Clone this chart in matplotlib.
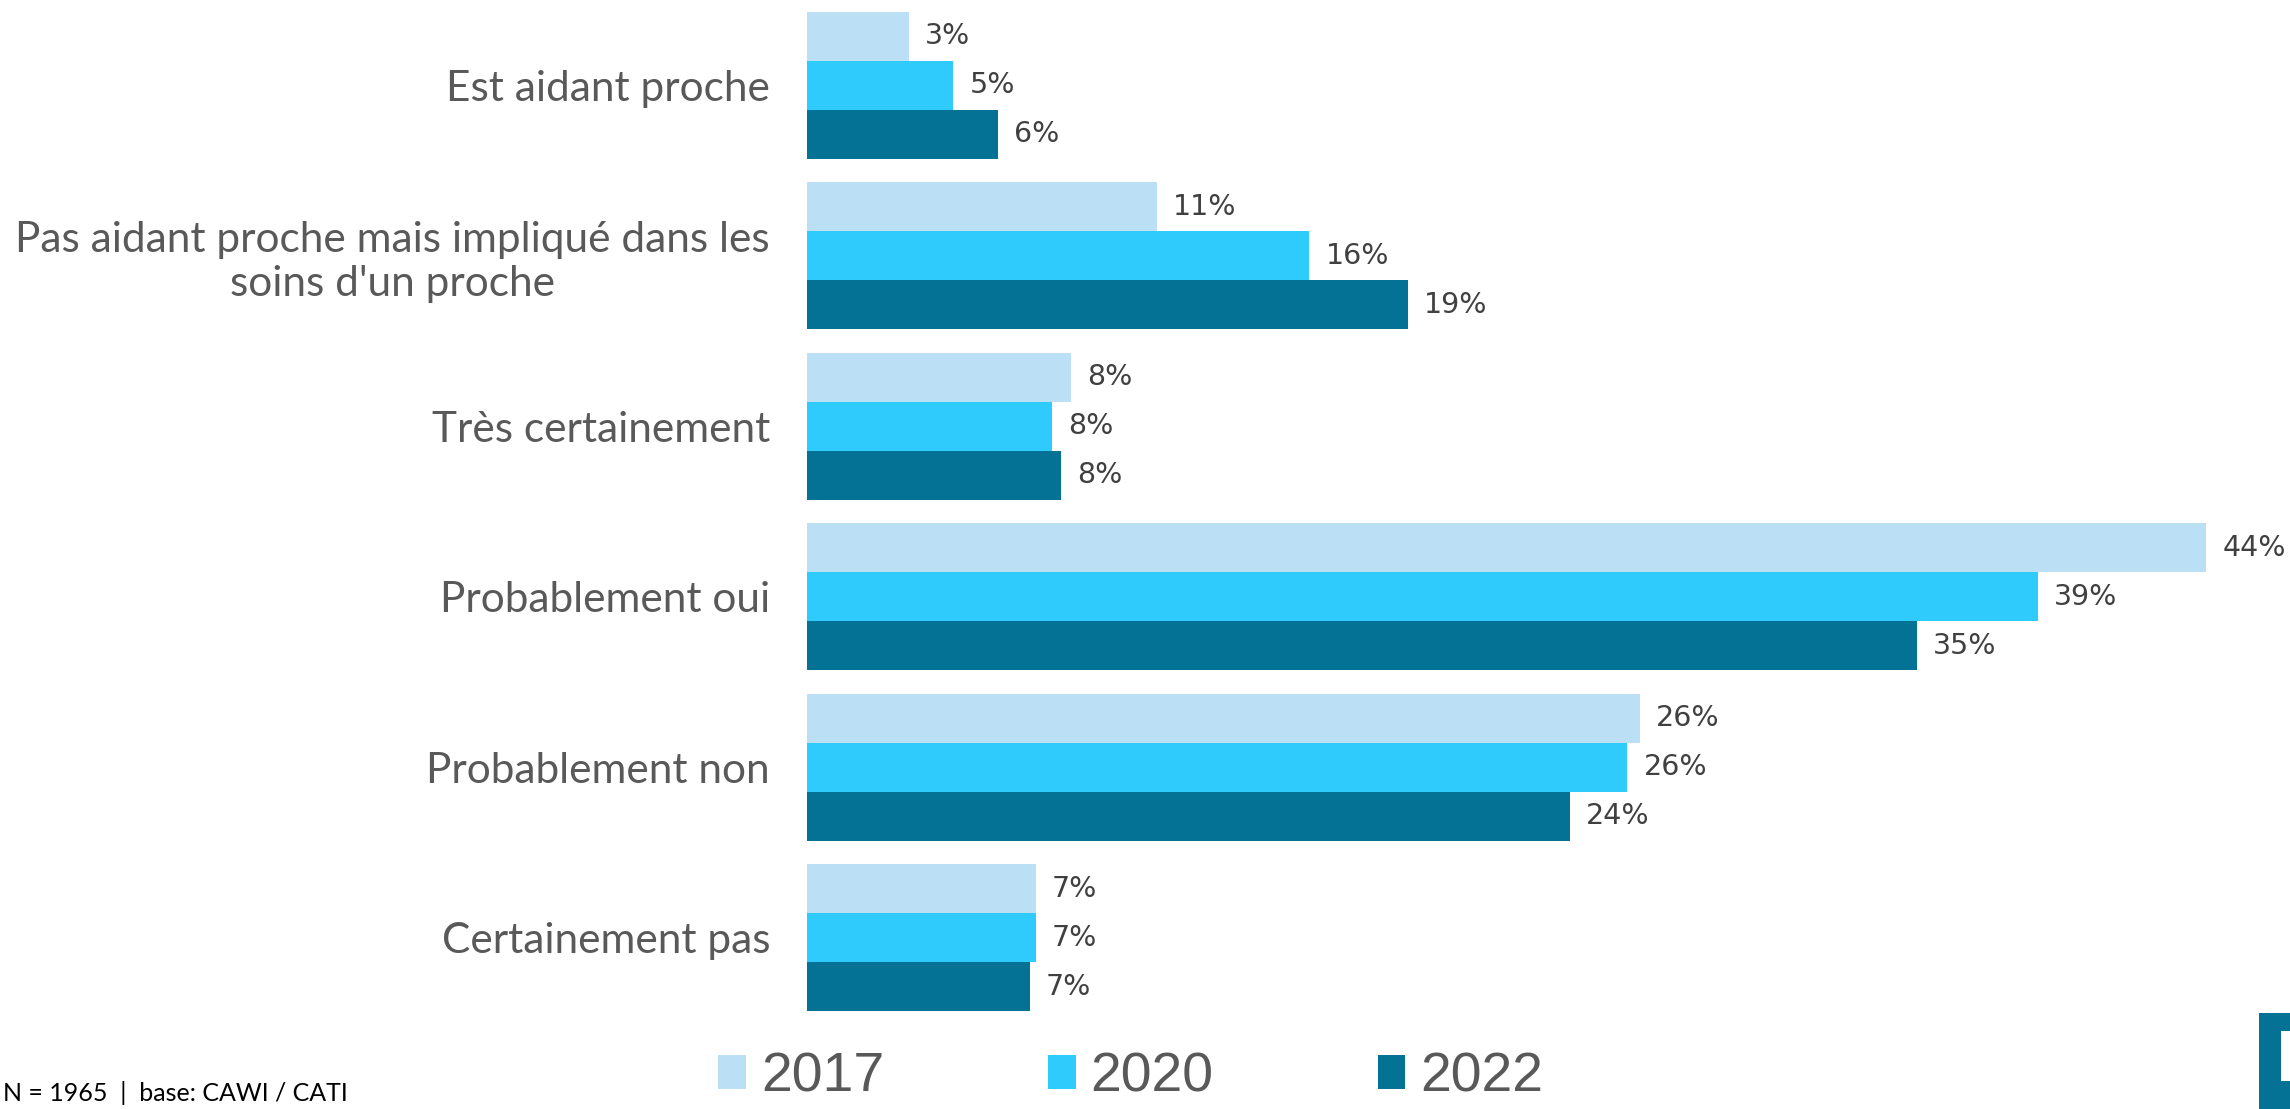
import matplotlib
matplotlib.use("Agg")
import matplotlib.pyplot as plt
from matplotlib.patches import Patch, Rectangle

categories = ["Est aidant proche",
              "Pas aidant proche mais impliqué dans les\nsoins d'un proche",
              "Très certainement",
              "Probablement oui",
              "Probablement non",
              "Certainement pas"]
years = ["2017", "2020", "2022"]
v2017 = [3.2, 11.0, 8.3, 44.0, 26.2, 7.2]
v2020 = [4.6, 15.8, 7.7, 38.7, 25.8, 7.2]
v2022 = [6.0, 18.9, 8.0, 34.9, 24.0, 7.0]
series = [v2017, v2020, v2022]
colors = ["#BBE0F5", "#2ECBFC", "#037294"]
footer = "N = 1965  |  base: CAWI / CATI"

W, H = 2290, 1109
fig = plt.figure(figsize=(W / 100, H / 100), dpi=100)
ax = fig.add_axes([807 / W, (H - 1023) / H, (W - 807) / W, 1023 / H])

bh = 0.287
n = len(categories)
for k, (vals, col) in enumerate(zip(series, colors)):
    pos = [i + (k - 1) * bh for i in range(n)]
    ax.barh(pos, vals, height=bh, color=col, edgecolor="none")
    for p, v in zip(pos, vals):
        ax.annotate(f"{round(v)}%", (v, p), xytext=(16 * 0.72, 0),
                    textcoords="offset points", va="center", ha="left",
                    fontsize=20.5, color="#404040", family="DejaVu Sans")

ax.set_xlim(0, (W - 807) / 31.8)
ax.set_ylim(n - 0.5, -0.5)
ax.set_yticks(range(n))
ax.set_yticklabels(categories, fontsize=30.5, color="#595959", family="Lato")
for lab in ax.get_yticklabels():
    lab.set_multialignment("center")
    lab.set_linespacing(1.2)
ax.tick_params(axis="y", length=0, pad=37 * 0.72)
ax.set_xticks([])
for s in ax.spines.values():
    s.set_visible(False)

handles = [Patch(facecolor=c, edgecolor="none", label=y) for c, y in zip(colors, years)]
fig.legend(handles=handles, loc="center left", bbox_to_anchor=(718 / W, 0.0283),
           ncol=3, frameon=False, handlelength=0.5, handleheight=0.55,
           handletextpad=0.27, columnspacing=2.95, borderpad=0, borderaxespad=0,
           prop={"family": "Liberation Sans", "size": 40}, labelcolor="#595959")

fig.text(3 / W, 8 / H, footer, ha="left", va="baseline", fontsize=18,
         color="#000000", family="Lato")

fig.patches.append(Rectangle((2259 / W, 0), (W - 2259) / W, (H - 1013) / H,
                             transform=fig.transFigure, facecolor="#037294",
                             edgecolor="none"))
fig.patches.append(Rectangle((2281 / W, 28 / H), 10 / W, 50 / H,
                             transform=fig.transFigure, facecolor="white",
                             edgecolor="none"))

fig.savefig("out.png", dpi=100)
